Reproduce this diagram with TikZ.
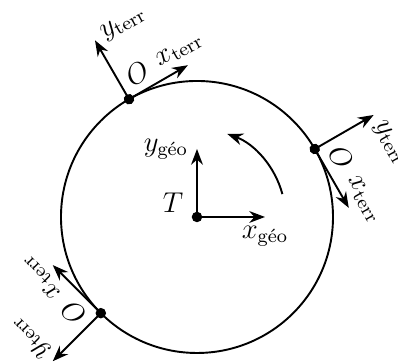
\documentclass[tikz,border=0pt]{standalone}
\usepackage{amsmath}
\usetikzlibrary{arrows.meta}
\begin{document}
\begin{tikzpicture}[>={Stealth}, thick, font=\large]
		\useasboundingbox (-2.897,-2.147) rectangle (2.956,3.191);
		\coordinate (T) at (0,0);
		\draw (T) circle (2);
		
		% repère géocentrique
		\coordinate (Tx) at (1,0);
		\coordinate (Ty) at (0,1);
		\draw[->] (T) -- (Tx) node[below] {\(x_{\text{géo}}\)};
		\draw[->] (T) -- (Ty) node[left] {\(y_{\text{géo}}\)};
		\fill (T) circle (2.2pt);
		\node[above left, xshift=-2pt, yshift=-2pt] (lT) at (T) {\(T\)};
		
		% sens de rotation
		\draw[->] (15:1.3) arc (15:70:1.3);
		
		% repères terrestres
		\foreach \a/\n in {120/a,30/b,225/c}{
			\begin{scope}[shift={(\a:2)}, rotate=\a-90]
				\coordinate (O\n) at (0,0);
				\coordinate (X\n) at (1,0);
				\coordinate (Y\n) at (0,1);
				\draw[->] (O\n) -- (X\n) node[above, transform shape] {\(x_{\text{terr}}\)};
				\draw[->] (O\n) -- (Y\n) node[right, transform shape] {\(y_{\text{terr}}\)};
				\fill (O\n) circle (2.2pt);
				\node[above right, transform shape] (l\n) at (O\n) {\(O\)};
			\end{scope}
		}
	\end{tikzpicture}
\end{document}
